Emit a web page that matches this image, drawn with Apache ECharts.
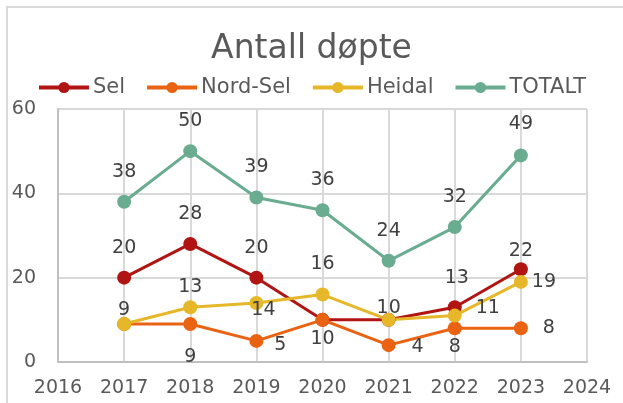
<!DOCTYPE html>
<html>
<head>
<meta charset="utf-8">
<script src="https://cdn.jsdelivr.net/npm/echarts@6/dist/echarts.min.js"></script>
<style>
  html, body { margin: 0; padding: 0; background: #fff; }
  #chart { width: 623px; height: 403px; }
</style>
</head>
<body>
<div id="chart"></div>
<script>
  // data
  var years = [2017, 2018, 2019, 2020, 2021, 2022, 2023];
  var sel = [20, 28, 20, 10, 10, 13, 22];
  var nordSel = [9, 9, 5, 10, 4, 8, 8];
  var heidal = [9, 13, 14, 16, 10, 11, 19];
  var totalt = [38, 50, 39, 36, 24, 32, 49];
  var yTicks = [0, 20, 40, 60];
  var xTicks = [2016, 2017, 2018, 2019, 2020, 2021, 2022, 2023, 2024];

  // label offsets from each point (null = no label)
  var selLab = [[0, -30], [0, -30], [0, -30], null, null, [2, -29], [0, -18]];
  var nordLab = [null, [0, 33], [24, 4], [0, 19], [29, 2], [0, 19], [28, 0]];
  var heidalLab = [[0, -14], [0, -20], [7, 7], [0, -30], [0, -12], [33, -8], [23, 0]];
  var totLab = [[0, -30], [0, -30], [0, -30], [0, -30], [0, -30], [0, -30], [0, -31]];

  var font = 'DejaVu Sans';
  var chart = echarts.init(document.getElementById('chart'));

  function makeSeries(name, vals, offs, color) {
    return {
      name: name,
      type: 'line',
      symbol: 'circle',
      symbolSize: 14,
      lineStyle: { color: color, width: 3 },
      itemStyle: { color: color },
      emphasis: { disabled: true },
      data: vals.map(function (v, i) {
        var o = offs[i];
        return {
          value: [years[i], v],
          label: {
            show: o != null,
            position: 'inside',
            offset: o || [0, 0],
            color: '#404040',
            fontFamily: font,
            fontSize: 19,
            align: 'center',
            verticalAlign: 'middle'
          }
        };
      })
    };
  }

  chart.setOption({
    animation: false,
    title: {
      text: 'Antall døpte',
      left: 'center',
      top: 28,
      textStyle: { fontFamily: font, fontSize: 33, fontWeight: 'normal', color: '#595959' }
    },
    legend: {
      top: 72,
      left: 'center',
      itemWidth: 50,
      itemHeight: 14,
      itemGap: 20,
      lineStyle: { width: 4 },
      textStyle: { fontFamily: font, fontSize: 21, color: '#595959', padding: [0, 0, 0, -1] },
      data: ['Sel', 'Nord-Sel', 'Heidal', 'TOTALT']
    },
    graphic: [{
      type: 'rect',
      shape: { x: 7, y: 7, width: 700, height: 500 },
      style: { fill: 'none', stroke: '#d9d9d9', lineWidth: 2 },
      silent: true
    }],
    grid: { left: 58, right: 36, top: 109, bottom: 41 },
    xAxis: {
      type: 'value',
      min: xTicks[0],
      max: xTicks[xTicks.length - 1],
      interval: 1,
      axisLine: { show: true, onZero: false, lineStyle: { color: '#bfbfbf', width: 2 } },
      axisTick: { show: false },
      splitLine: { show: true, lineStyle: { color: '#d9d9d9', width: 2 } },
      axisLabel: {
        margin: 17,
        color: '#595959',
        fontFamily: font,
        fontSize: 19,
        formatter: function (v) { return String(v); }
      }
    },
    yAxis: {
      type: 'value',
      min: yTicks[0],
      max: yTicks[yTicks.length - 1],
      interval: 20,
      axisLine: { show: true, lineStyle: { color: '#bfbfbf', width: 2 } },
      axisTick: { show: false },
      splitLine: { show: true, lineStyle: { color: '#d9d9d9', width: 2 } },
      axisLabel: { margin: 22, color: '#595959', fontFamily: font, fontSize: 19 }
    },
    series: [
      makeSeries('Sel', sel, selLab, '#b01513'),
      makeSeries('Nord-Sel', nordSel, nordLab, '#ea6312'),
      makeSeries('Heidal', heidal, heidalLab, '#e6b729'),
      makeSeries('TOTALT', totalt, totLab, '#6aac90')
    ]
  });
</script>
</body>
</html>
